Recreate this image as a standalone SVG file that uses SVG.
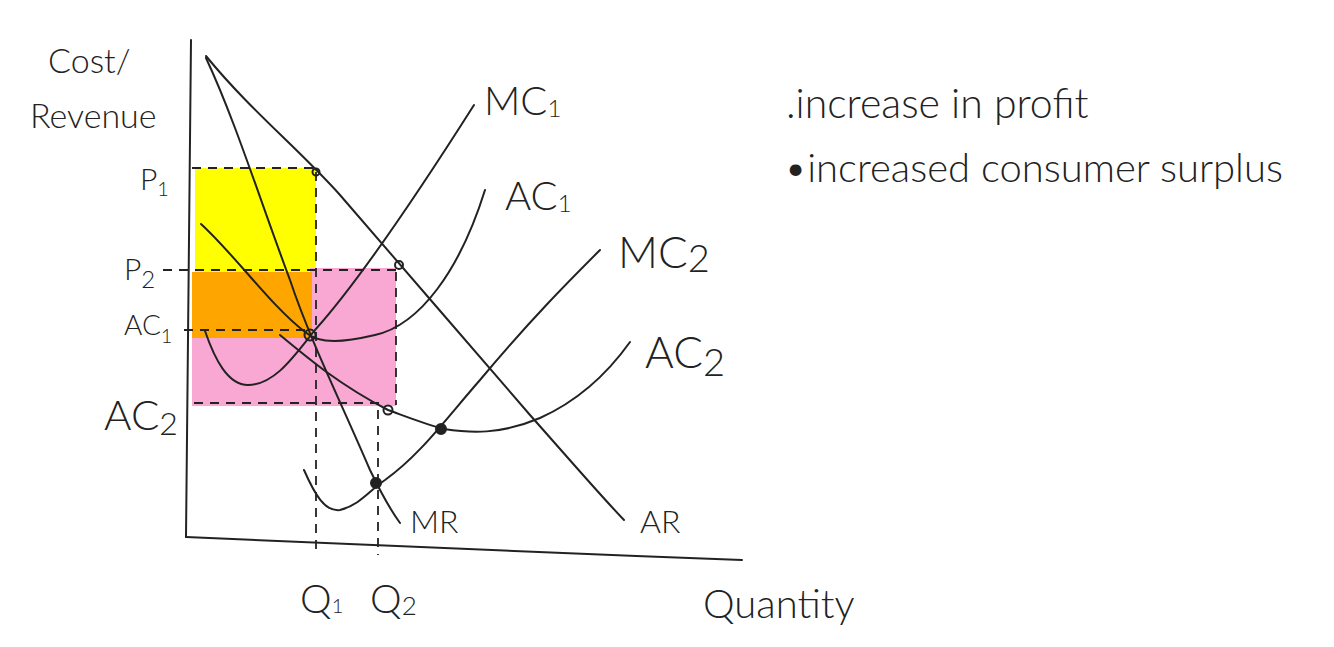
<svg xmlns="http://www.w3.org/2000/svg" width="1334" height="647" viewBox="0 0 1334 647">
<style>
.c{fill:none;stroke:#222;stroke-width:2;stroke-linecap:round;stroke-linejoin:round}
.d{fill:none;stroke:#222;stroke-width:1.8;stroke-dasharray:9 7}
.t{font-family:Lato,"Open Sans",sans-serif;font-weight:300;fill:#222}
.p{fill:none;stroke:#222;stroke-width:2}
</style>
<rect width="1334" height="647" fill="#fff"/>
<g id="areas">
<rect x="195" y="168" width="121" height="104" fill="#ffff00"/>
<rect x="310" y="268" width="86" height="138" fill="#f9a8d4"/>
<rect x="192" y="336" width="204" height="70" fill="#f9a8d4"/>
<rect x="192" y="272" width="120" height="66" fill="#ffa500"/>
</g>
<g id="axes">
<path class="c" d="M191,40 C189,200 188,400 186,537"/>
<path class="c" d="M186,537 C350,545 550,553 742,560"/>
</g>
<g id="guides">
<path class="d" d="M192,168 H316"/>
<path class="d" d="M316,172 V552"/>
<path class="d" d="M163,270 H398"/>
<path class="d" d="M396,272 V405"/>
<path class="d" d="M378,410 V555"/>
<path class="d" d="M184,330 H306"/>
<path class="d" d="M194,403 H384"/>
</g>
<g id="connectors">
<path id="AR" class="c" d="M206,56 C250,110 300,150 340,195 C400,265 470,345 530,415 C570,460 600,495 624,520"/>
<path id="MR" class="c" d="M206,58 C235,120 260,200 290,280 C310,340 340,400 370,470 C382,495 392,512 400,523"/>
<path id="MC1" class="c" d="M205,331 C215,360 228,385 248,385 C275,385 295,355 315,330 C360,280 420,190 474,105"/>
<path id="AC1" class="c" d="M201,224 C235,255 270,305 305,332 C320,345 345,342 375,335 C420,325 460,270 485,190"/>
<path id="MC2" class="c" d="M304,470 C315,495 325,512 340,510 C360,505 370,490 385,480 C420,455 445,420 480,380 C530,320 570,280 600,250"/>
<path id="AC2" class="c" d="M280,335 C310,360 340,385 388,410 C410,418 425,424 444,429 C470,433 500,435 540,418 C580,400 610,370 630,342"/>
</g>
<g id="points">
<circle class="p" cx="316" cy="172" r="3.5"/>
<circle class="p" cx="399" cy="265" r="4"/>
<circle class="p" cx="310" cy="335" r="5.5"/>
<circle class="p" cx="388" cy="410" r="4.5"/>
<circle fill="#222" stroke="#222" stroke-width="2" cx="441" cy="429" r="5"/>
<circle fill="#222" stroke="#222" stroke-width="2" cx="376" cy="483" r="5"/>
</g>
<g id="labels">
<text class="t" x="48" y="73" font-size="34">Cost/</text>
<text class="t" x="30" y="128" font-size="34">Revenue</text>
<text class="t" x="140" y="190" font-size="30">P<tspan font-size="20" dy="6">1</tspan></text>
<text class="t" x="124" y="280" font-size="30">P<tspan font-size="24" dy="8">2</tspan></text>
<text class="t" x="124" y="335" font-size="28">AC<tspan font-size="20" dy="8">1</tspan></text>
<text class="t" x="104" y="430" font-size="42">AC<tspan font-size="32" dy="5">2</tspan></text>
<text class="t" x="484" y="115" font-size="40">MC<tspan font-size="24" dy="2">1</tspan></text>
<text class="t" x="505" y="210" font-size="40">AC<tspan font-size="24" dy="2">1</tspan></text>
<text class="t" x="618" y="268" font-size="44">MC<tspan font-size="38" dy="4">2</tspan></text>
<text class="t" x="645" y="368" font-size="44">AC<tspan font-size="38" dy="8">2</tspan></text>
<text class="t" x="410" y="533" font-size="32">MR</text>
<text class="t" x="640" y="533" font-size="32">AR</text>
<text class="t" x="300" y="613" font-size="40">Q<tspan font-size="20" dy="0">1</tspan></text>
<text class="t" x="370" y="613" font-size="40">Q<tspan font-size="26" dy="2">2</tspan></text>
<text class="t" x="703" y="618" font-size="40">Quantity</text>
<text class="t" x="786" y="118" font-size="41">.increase in profit</text>
<text class="t" x="784" y="182" font-size="40">•increased consumer surplus</text>
</g>
</svg>
